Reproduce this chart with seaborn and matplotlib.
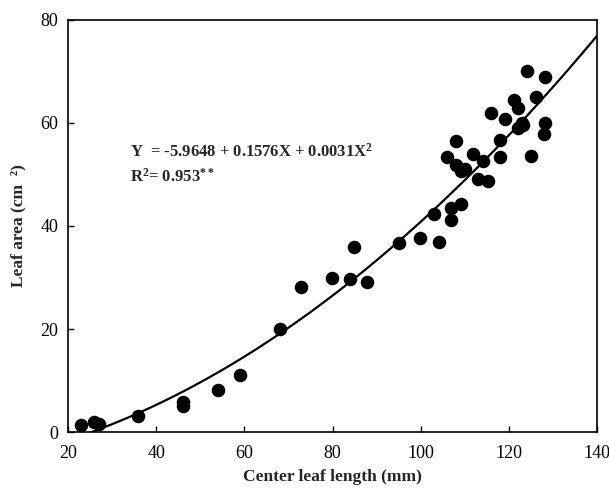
import numpy as np
import pandas as pd
import seaborn as sns
import matplotlib.pyplot as plt

# points
leaf_length = [22.9, 25.8, 27.0, 35.9, 46.0, 46.0, 54.1, 59.0, 68.0, 72.9,
               79.9, 83.9, 84.9, 87.9, 95.0, 99.9, 103.0, 104.1, 107.0, 107.0,
               109.1, 106.0, 108.1, 108.0, 109.1, 110.1, 112.0, 113.0, 114.1, 115.2,
               116.0, 118.1, 118.0, 119.1, 121.1, 122.1, 122.0, 123.2, 123.1, 124.1,
               125.0, 126.1, 128.3, 128.2, 128.1]
leaf_area = [1.3, 1.9, 1.6, 3.2, 5.0, 5.8, 8.1, 11.0, 20.0, 28.2,
             30.0, 29.8, 36.0, 29.2, 36.6, 37.7, 42.3, 36.9, 41.1, 43.4,
             44.2, 53.4, 56.4, 51.8, 50.6, 51.0, 54.0, 49.2, 52.7, 48.7,
             62.0, 56.7, 53.3, 60.7, 64.5, 62.9, 59.1, 59.5, 60.0, 70.0,
             53.6, 65.0, 68.9, 60.0, 57.8]

# fitted quadratic as printed on the chart: a + bX + cX^2
coef = [-5.9648, 0.1576, 0.0031]
eq_text = "Y  = -5.9648 + 0.1576X + 0.0031X$^2$"
r2_text = "R$^2$= 0.953$^{**}$"

sns.set_style("ticks")
plt.rcParams['font.family'] = ['Liberation Serif', 'DejaVu Serif']
plt.rcParams['mathtext.fontset'] = 'custom'
plt.rcParams['mathtext.rm'] = 'Liberation Serif:bold'
plt.rcParams['mathtext.it'] = 'Liberation Serif:bold'
plt.rcParams['mathtext.bf'] = 'Liberation Serif:bold'

df = pd.DataFrame({"length": leaf_length, "area": leaf_area})
xs = np.linspace(25.3, 140, 300)
fit = pd.DataFrame({"length": xs, "area": coef[0] + coef[1] * xs + coef[2] * xs ** 2})

fig = plt.figure(figsize=(6.09, 4.95), dpi=100)
ax = fig.add_axes([0.112, 0.127, 0.868, 0.833])

sns.lineplot(data=fit, x="length", y="area", color="black", linewidth=1.6, ax=ax)
sns.scatterplot(data=df, x="length", y="area", color="black", s=95,
                edgecolor="black", linewidth=0, ax=ax, zorder=3)

ax.set_xlim(20, 140)
ax.set_ylim(0, 80)
ax.set_xticks(range(20, 141, 20))
ax.set_yticks(range(0, 81, 20))
ax.tick_params(direction="in", length=4, width=1, labelsize=13, colors="black")
ax.tick_params(axis="x", pad=9)
ax.tick_params(axis="y", pad=7)
for sp in ax.spines.values():
    sp.set_linewidth(1.2)
    sp.set_color("black")

ax.set_xlabel("Center leaf length (mm)", fontsize=12.5, fontweight="bold", labelpad=5)
ax.set_ylabel("Leaf area (cm  ²)", fontsize=12.5, fontweight="bold", labelpad=10)

ax.text(34.0, 54.4, eq_text, fontsize=12, fontweight="bold", va="center")
ax.text(34.0, 49.6, r2_text, fontsize=12, fontweight="bold", va="center")

fig.savefig("out.png", dpi=100)
